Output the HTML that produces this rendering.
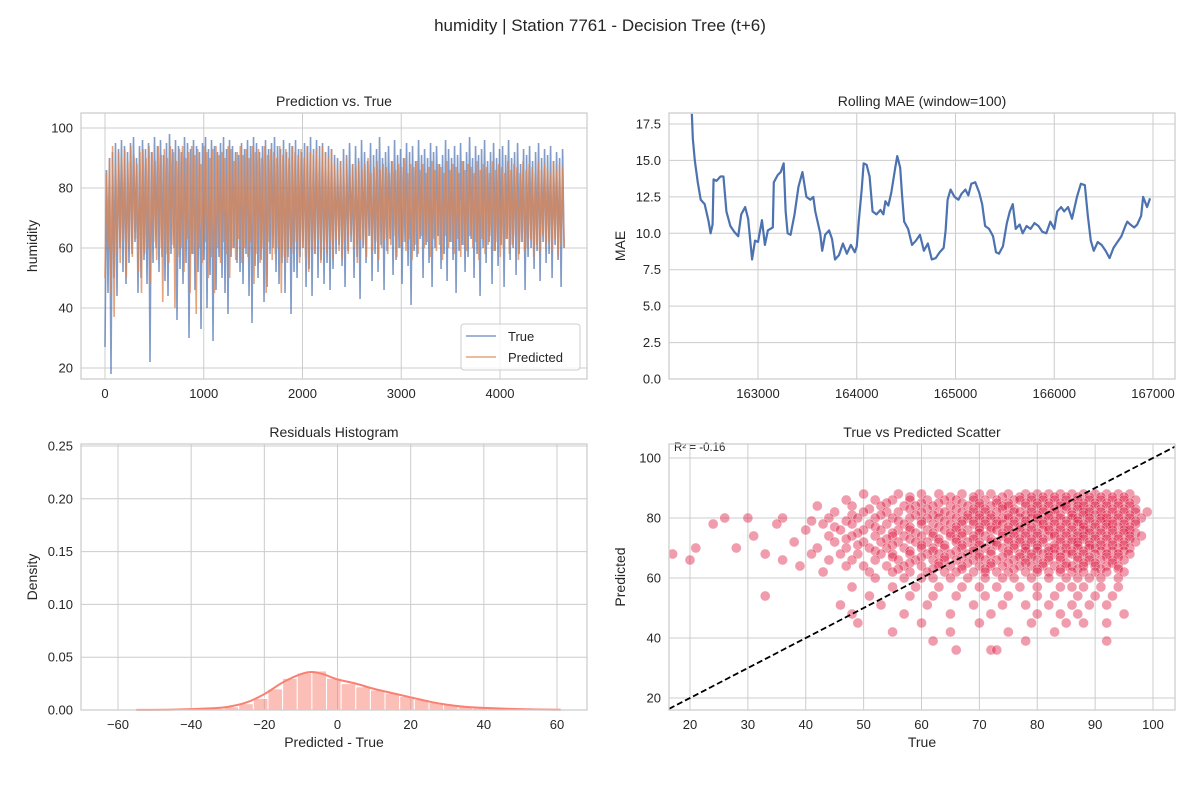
<!DOCTYPE html>
<html><head><meta charset="utf-8"><style>
html,body{margin:0;padding:0;background:#fff;}
svg{display:block;font-family:"Liberation Sans",Arial,sans-serif;}
text{fill:#262626;}
</style></head><body>
<svg id="fig" width="1200" height="800" viewBox="0 0 1200 800" xmlns="http://www.w3.org/2000/svg">
<text x="600" y="31" text-anchor="middle" font-size="17">humidity | Station 7761 - Decision Tree (t+6)</text>
<g id="p1"></g>
<g id="p2"></g>
<g id="p3"></g>
<g id="p4"></g>
</svg>
<script>
// ---- data ----
const trueVals=[27,86,45,90,18,92,50,95,44,93,60,96,52,94,48,92,55,95,58,97,62,90,45,94,50,96,56,93,48,95,22,92,55,97,60,94,52,96,57,91,49,95,44,98,58,93,60,96,36,94,53,92,48,97,55,95,30,93,58,96,46,94,52,92,33,95,56,97,40,93,51,96,29,94,46,92,57,95,50,97,45,93,38,96,57,94,60,92,55,91,52,95,48,93,58,96,44,94,35,97,54,95,50,92,56,94,42,96,47,93,58,95,60,97,52,94,48,93,55,96,45,92,57,95,38,94,52,96,50,93,57,92,60,95,47,94,53,97,44,93,58,96,50,94,56,95,48,92,55,94,46,93,53,91,58,90,
 61,89,54,93,47,91,59,95,62,88,50,94,57,90,43,96,60,92,55,89,64,95,49,91,58,93,52,97,61,90,46,92,59,94,63,89,51,96,56,91,60,93,48,90,62,95,54,92,41,94,59,89,57,96,63,91,50,93,61,90,55,95,47,92,60,94,64,88,53,91,58,96,49,93,62,90,56,94,45,91,59,95,61,89,52,92,57,97,63,90,50,94,58,91,44,93,60,96,55,89,62,92,48,95,59,90,54,93,61,94,47,91,63,96,56,90,60,92,51,95,58,88,62,93,46,91,57,94,60,89,53,92,59,95,49,90,62,93,55,91,58,94,50,89,61,92,56,90,47,93,60];
const predVals=[50,85,60,90,44,94,37,88,58,92,55,90,62,93,50,89,60,94,57,91,63,88,52,92,45,93,58,90,60,94,48,92,62,89,56,94,60,91,42,93,58,90,55,94,61,92,40,89,57,93,60,94,52,90,63,92,45,94,58,91,38,93,60,88,55,94,62,92,50,90,57,93,45,94,60,91,55,92,62,90,58,94,50,93,60,89,56,92,63,94,55,91,60,93,57,90,62,94,48,92,58,93,55,90,60,94,45,91,62,93,56,92,58,90,60,94,45,91,57,93,55,90,60,94,58,92,62,91,55,93,60,90,57,94,52,92,60,91,58,93,63,90,55,94,60,92,58,90,62,93,56,88,
 63,86,59,89,56,87,62,90,58,85,64,88,60,87,55,89,63,86,61,88,57,90,64,85,59,87,62,89,56,86,60,88,63,87,58,85,61,89,64,86,57,88,60,87,62,90,59,85,63,88,56,87,61,89,58,86,64,88,60,85,62,87,57,89,63,86,59,88,61,87,56,85,64,89,60,86,62,88,58,87,63,85,57,89,61,86,59,88,64,87,60,85,62,89,56,86,63,88,58,87,61,85,64,89,59,86,62,88,57,87,60,85,63,89,58,86,61,88,64,87,56,85,62,89,59,86,60,88,63,87,57,85,61,89,58,86,64,88,60,87,62,85,59,89,63,86,57,88,61,87,60];
const seriesLen=4650;
const maeX=[162330,162340,162360,162390,162420,162460,162500,162520,162540,162550,162580,162620,162650,162680,162720,162760,162800,162830,162870,162900,162940,162970,163000,163040,163070,163100,163150,163160,163200,163230,163260,163280,163300,163330,163370,163410,163450,163490,163530,163560,163580,163630,163650,163680,163720,163750,163780,163820,163860,163900,163940,163980,164000,164020,164050,164070,164100,164130,164160,164200,164240,164270,164290,164320,164350,164390,164410,164440,164460,164480,164520,164560,164600,164640,164680,164720,164760,164800,164840,164880,164900,164920,164950,164990,165030,165060,165100,165130,165160,165200,165240,165270,165300,165340,165380,165410,165440,165480,165520,165550,165580,165610,165650,165680,165720,165760,165800,165840,165880,165920,165960,166000,166030,166070,166100,166140,166180,166230,166270,166310,166340,166370,166400,166440,166480,166520,166560,166600,166640,166680,166720,166740,166770,166810,166840,166880,166900,166940,166970];
const maeY=[18.2,16.5,15,13.5,12.3,12,10.8,10,10.6,13.7,13.6,13.9,13.9,11.5,10.5,10.1,9.8,11.3,11.8,11,8.2,9.5,9.4,10.9,9.2,10.2,10.4,13.5,14,14.2,14.8,11.5,10,9.9,11.3,13.2,14.2,12.5,12.3,12.5,11.5,10,8.8,9.9,10.2,9.6,8.2,8.5,9.3,8.6,9.2,8.7,9.1,10.8,13,14.8,14.7,13.9,11.5,11.3,11.6,11.3,12.2,11.9,12.8,14.5,15.3,14.5,12.5,10.8,10.3,9.2,9.5,9.9,8.8,9.3,8.2,8.3,8.7,9,10.2,12.3,13,12.5,12.3,12.7,13,12.6,13.4,13.5,12.8,12,10.5,10.3,9.8,8.7,8.6,9.1,10.7,11.5,12,10.3,10.6,10,10.5,10.3,10.7,10.5,10.1,10,10.8,10.3,11.5,11.8,11.5,11.8,11,12.5,13.4,13.3,11.2,9.5,8.8,9.4,9.2,8.8,8.3,9,9.4,9.8,10.5,10.8,10.6,10.4,10.6,11.2,12.5,11.8,12.4];
const histCenters=[-53,-49,-45,-41,-37,-33,-29,-25,-21,-17,-13,-9,-5,-1,3,7,11,15,19,23,27,31,35,39,43,47,51,55,59];
const histDensity=[0.0005,0.0005,0.0005,0.0007,0.001,0.0015,0.003,0.006,0.011,0.02,0.03,0.035,0.037,0.030,0.025,0.022,0.019,0.016,0.013,0.010,0.007,0.005,0.003,0.002,0.0015,0.001,0.0007,0.0005,0.0004];
const kdeX=[-55,-45,-35,-30,-25,-20,-15,-10,-7,-4,0,5,10,15,20,25,30,35,40,50,61];
const kdeY=[0.0001,0.0003,0.0015,0.003,0.007,0.015,0.026,0.034,0.036,0.034,0.029,0.025,0.020,0.016,0.012,0.008,0.005,0.003,0.002,0.0008,0.0002];
const scatterRows="88:50,56,60,63,67,70,72,75,78,80,82,84,86,88,90,92,94,96|87:58,65,69,74,77,79,81,83,85,87,89,91,93,95|86:47,52,55,58,61,64,66,69,71,73,76,77,79,81,83,85,87,89,91,93,95,97|85:54,60,63,67,70,73,75,78,80,82,84,86,88,90,92,94,96|84:42,48,53,57,59,62,65,68,70,72,74,75,78,80,82,84,85,87,88,90,92,94,96|83:51,58,61,66,69,71,74,76,79,81,83,85,87,89,91,93,95,97|82:45,50,54,56,60,63,64,67,69,71,73,76,77,79,81,83,86,88,89,91,93,95,97,99|81:48,53,59,62,65,68,70,72,75,78,80,82,84,86,88,90,92,94,96|80:26,30,36,44,49,52,55,58,61,63,66,68,70,72,74,75,77,79,80,82,84,86,87,89,91,92,94,96,98|79:41,47,56,60,64,67,69,71,73,76,78,81,83,85,87,89,91,93,95,97|78:24,35,43,48,51,54,57,60,62,65,67,69,71,73,74,76,78,80,81,83,85,87,88,90,92,93,95,97|77:45,52,58,63,66,70,72,75,77,79,82,84,86,88,90,92,94,96|76:40,46,50,53,56,58,61,64,66,68,70,72,73,75,77,79,81,82,84,86,88,89,91,93,95,96|75:49,55,59,62,65,67,70,74,76,78,80,83,85,87,89,91,93,95,97|74:31,44,48,52,55,57,60,62,65,67,69,71,74,76,78,80,82,83,85,87,88,90,92,94,96,98|73:47,54,58,63,66,69,72,75,77,79,81,84,86,88,90,92,94,96|72:38,45,50,53,56,59,61,63,66,68,70,72,73,75,77,79,81,84,86,87,89,91,93,95,97|71:49,55,60,64,67,70,73,76,78,80,83,85,87,89,91,93,95|70:21,28,42,47,51,54,57,60,62,64,67,69,71,74,76,78,80,82,83,85,87,89,90,92,94,96|69:52,58,62,66,69,72,75,78,80,82,84,86,88,91,93,95|68:17,33,41,46,49,53,55,58,61,63,65,68,70,72,75,77,79,81,83,85,86,88,90,92,94,96|67:55,60,64,67,70,74,77,79,82,84,87,89,92,94|66:20,36,44,48,52,56,59,62,64,66,69,71,73,76,78,80,82,84,87,89,91,93,95|65:58,63,68,72,75,78,81,85,88,90,93|64:39,47,50,54,57,60,63,65,67,70,72,74,77,79,81,83,85,86,88,90,92,94|63:56,62,67,71,76,80,84,87,91,94|62:43,51,55,58,61,64,66,69,71,73,75,78,80,82,84,86,88,90,92,95|60:52,57,60,62,65,68,71,74,76,79,82,85,87,89,91,94|57:48,55,59,63,67,70,73,77,80,84,86,88,91,94|54:33,51,58,62,66,71,75,80,83,87,90,93|51:46,53,61,69,74,78,82,86,89,92|48:48,57,65,72,80,84,87,95|45:49,60,70,79,85,88,92|42:55,65,75,83|39:62,78,92|36:66,72,73";
const r2Label="R² = -0.16";

const NS="http://www.w3.org/2000/svg";
function el(parent,tag,attrs,txt){const e=document.createElementNS(NS,tag);for(const k in attrs)e.setAttribute(k,attrs[k]);if(txt!==undefined)e.textContent=txt;parent.appendChild(e);return e;}
function lin(d0,d1,r0,r1){return v=>r0+(v-d0)*(r1-r0)/(d1-d0);}
const GRID="#cccccc";
function frame(g,L,T,R,B,xs,ys,xt,yt,xlab,ylab,title,xfmt,yfmt,name){
  for(const t of xt){const x=xs(t);const gl=el(g,'line',{x1:x,x2:x,y1:T,y2:B,stroke:GRID,'stroke-width':1});
    
    const tx=el(g,'text',{x:x,y:B+19,'text-anchor':'middle','font-size':13},xfmt(t));
    }
  for(const t of yt){const y=ys(t);const gl=el(g,'line',{x1:L,x2:R,y1:y,y2:y,stroke:GRID,'stroke-width':1});
    
    const ty=el(g,'text',{x:L-8,y:y+4.5,'text-anchor':'end','font-size':13},yfmt(t));
    }
  const tt=el(g,'text',{x:(L+R)/2,y:T-7,'text-anchor':'middle','font-size':14},title);
  
  if(xlab){const xl=el(g,'text',{x:(L+R)/2,y:B+37,'text-anchor':'middle','font-size':14},xlab);
    }
  const yl=el(g,'text',{x:0,y:0,'text-anchor':'middle','font-size':14,transform:`translate(${L-44},${(T+B)/2}) rotate(-90)`},ylab);
  
}
function border(g,L,T,R,B,name){const b=el(g,'rect',{x:L,y:T,width:R-L,height:B-T,fill:'none',stroke:'#cccccc','stroke-width':1.25});
  }
function clip(id,L,T,R,B){const c=el(document.getElementById('fig'),'clipPath',{id:id});el(c,'rect',{x:L,y:T,width:R-L,height:B-T});}

// ---- panel 1 ----
(function(){const g=document.getElementById('p1');const L=81,T=113,R=587,B=379;
  const xs=lin(0,4000,105,500),ys=lin(20,100,368,128);
  frame(g,L,T,R,B,xs,ys,[0,1000,2000,3000,4000],[20,40,60,80,100],null,'humidity','Prediction vs. True',String,String,'p1');
  clip('c1',L,T,R,B);
  function path(vals){return vals.map((v,i)=>(i?'L':'M')+xs(i*(seriesLen-1)/(vals.length-1)).toFixed(2)+','+ys(v).toFixed(2)).join('');}
  const a=el(g,'path',{d:path(trueVals),fill:'none',stroke:'#4c72b0','stroke-opacity':0.7,'stroke-width':1.6,'clip-path':'url(#c1)'});
  
  const b=el(g,'path',{d:path(predVals),fill:'none',stroke:'#dd8452','stroke-opacity':0.75,'stroke-width':1.6,'clip-path':'url(#c1)'});
  
  border(g,L,T,R,B,'p1');
  const lg=el(g,'g',{});
  el(lg,'rect',{x:461,y:324,width:119,height:46,rx:3,fill:'#fff','fill-opacity':0.8,stroke:'#cccccc'});
  const e1=el(lg,'line',{x1:466,x2:496,y1:336,y2:336,stroke:'#4c72b0','stroke-opacity':0.7,'stroke-width':1.6});
  
  el(lg,'text',{x:508,y:341,'font-size':13},'True');
  const e2=el(lg,'line',{x1:466,x2:496,y1:357,y2:357,stroke:'#dd8452','stroke-opacity':0.75,'stroke-width':1.6});
  
  el(lg,'text',{x:508,y:362,'font-size':13},'Predicted');
})();

// ---- panel 2 ----
(function(){const g=document.getElementById('p2');const L=669,T=113,R=1175,B=379;
  const xs=lin(163000,167000,758,1153),ys=lin(0,17.5,379,124);
  frame(g,L,T,R,B,xs,ys,[163000,164000,165000,166000,167000],[0,2.5,5,7.5,10,12.5,15,17.5],null,'MAE','Rolling MAE (window=100)',String,v=>v.toFixed(1),'p2');
  clip('c2',L,T,R,B);
  const d=maeX.map((x,i)=>(i?'L':'M')+xs(x).toFixed(2)+','+ys(maeY[i]).toFixed(2)).join('');
  const p=el(g,'path',{d:d,fill:'none',stroke:'#4c72b0','stroke-width':2.2,'clip-path':'url(#c2)','stroke-linejoin':'round'});
  
  border(g,L,T,R,B,'p2');
})();

// ---- panel 3 ----
(function(){const g=document.getElementById('p3');const L=81,T=444,R=587,B=710;
  const xs=lin(-60,60,118,557),ys=lin(0,0.25,710,446);
  frame(g,L,T,R,B,xs,ys,[-60,-40,-20,0,20,40,60],[0,0.05,0.1,0.15,0.2,0.25],'Predicted - True','Density','Residuals Histogram',v=>v<0?'\u2212'+(-v):String(v),v=>v.toFixed(2),'p3');
  const w=4;
  histCenters.forEach((c,i)=>{const x0=xs(c-w/2),x1=xs(c+w/2),y=ys(histDensity[i]);
    const r=el(g,'rect',{x:x0,y:y,width:x1-x0,height:B-y,fill:'#fa8072','fill-opacity':0.5,stroke:'#fff','stroke-width':1});
    });
  const pts=kdeX.map((x,i)=>[xs(x),ys(kdeY[i])]);
  let d='M'+pts[0][0]+','+pts[0][1];
  for(let i=0;i<pts.length-1;i++){const p0=pts[Math.max(0,i-1)],p1=pts[i],p2=pts[i+1],p3=pts[Math.min(pts.length-1,i+2)];
    d+=`C${p1[0]+(p2[0]-p0[0])/6},${p1[1]+(p2[1]-p0[1])/6} ${p2[0]-(p3[0]-p1[0])/6},${p2[1]-(p3[1]-p1[1])/6} ${p2[0]},${p2[1]}`;}
  const k=el(g,'path',{d:d,fill:'none',stroke:'#fa8072','stroke-width':2});
  
  border(g,L,T,R,B,'p3');
})();

// ---- panel 4 ----
(function(){const g=document.getElementById('p4');const L=669,T=444,R=1175,B=710;
  const xs=lin(20,100,690,1153),ys=lin(20,100,698,458);
  frame(g,L,T,R,B,xs,ys,[20,30,40,50,60,70,80,90,100],[20,40,60,80,100],'True','Predicted','True vs Predicted Scatter',String,String,'p4');
  clip('c4',L,T,R,B);
  const pg=el(g,'g',{'clip-path':'url(#c4)'});
  scatterRows.split('|').forEach(row=>{const [py,tx]=row.split(':');const yv=+py;
    tx.split(',').forEach(t=>{const c=el(pg,'circle',{cx:xs(+t),cy:ys(yv),r:5,fill:'#dc143c','fill-opacity':0.42,stroke:'#fff','stroke-width':0.5,'stroke-opacity':0.6});
      });});
  const lx0=15,lx1=105;
  const dl=el(g,'line',{x1:xs(lx0),y1:ys(lx0),x2:xs(lx1),y2:ys(lx1),stroke:'#000','stroke-width':1.8,'stroke-dasharray':'6,3','clip-path':'url(#c4)'});
  
  const r2=el(g,'text',{x:674,y:451,'font-size':11.5},r2Label);
  
  border(g,L,T,R,B,'p4');
})();
</script>
</body></html>
